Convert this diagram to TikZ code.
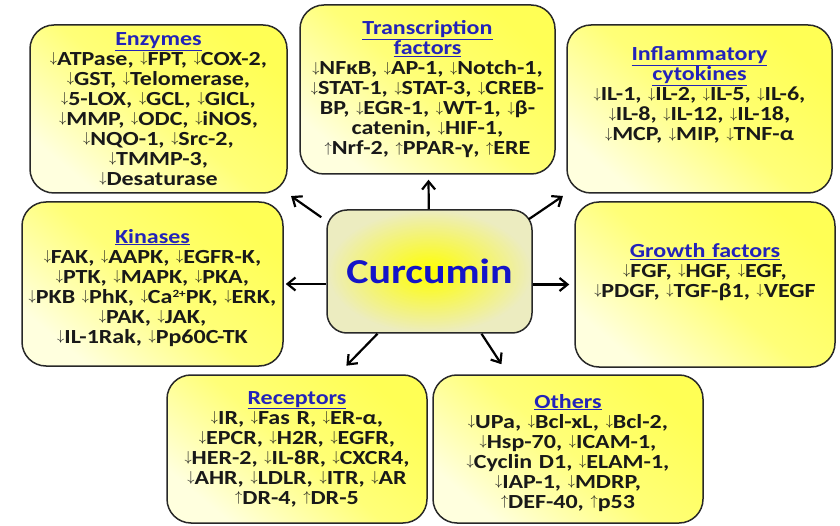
\documentclass[tikz,border=0pt]{standalone}
\usepackage{fontspec}
\setmainfont{Carlito}[FakeStretch=1.2]
\usetikzlibrary{arrows.meta,positioning}

\definecolor{ylw}{RGB}{255,255,85}
\definecolor{ylwmid}{RGB}{255,255,120}
\definecolor{ylwpale}{RGB}{255,255,222}
\definecolor{bord}{RGB}{40,40,40}
\definecolor{ttlblue}{RGB}{35,35,185}
\definecolor{curblue}{RGB}{20,20,200}
\definecolor{curin}{RGB}{255,255,0}
\definecolor{curout}{RGB}{236,236,192}

\newcommand{\boxfont}{\fontsize{20}{20}\selectfont\bfseries\lineskiplimit=-20pt}
\newcommand{\dn}{\raisebox{2.9pt}{\fontsize{15}{15}\selectfont$\downarrow$}}
\newcommand{\up}{\raisebox{2.9pt}{\fontsize{15}{15}\selectfont$\uparrow$}}
\newcommand{\ttl}[1]{\textcolor{ttlblue}{\underline{#1}}}
\newcommand{\sups}[1]{\raisebox{5.5pt}{\fontsize{11}{11}\selectfont #1}}

\begin{document}
\begin{tikzpicture}[x=1pt, y=-1pt,
    shorten >=5pt,
    >={Straight Barb[length=8pt,width=13pt]},
    every text node part/.style={align=center},
    box/.style = {draw=bord, line width=1.5pt, rounded corners=24pt,
                  top color=ylw, bottom color=ylwpale, middle color=ylwmid,
                  shading angle=-40, inner xsep=0pt, inner ysep=2pt,
                  text=black!90, font=\boxfont}
  ]
  \tikzstyle{curbox}=[draw=bord, line width=1.5pt, rounded corners=20pt,
                      inner color=curin, outer color=curout,
                      text=curblue, font=\fontsize{35}{40}\selectfont\bfseries]

  \useasboundingbox (0,0) rectangle (840,526);

  \node[curbox, minimum width=205pt, minimum height=123pt] (b_cur) at (429.5,271.5) {Curcumin};

  \node[box, minimum width=257pt, minimum height=168pt, text width=257pt] (b_enz) at (158.5,109)
    {\ttl{Enzymes}\\
     \dn ATPase, \dn FPT, \dn COX-2,\\
     \dn GST, \dn Telomerase,\\
     \dn 5-LOX, \dn GCL, \dn GICL,\\
     \dn MMP, \dn ODC, \dn iNOS,\\
     \dn NQO-1, \dn Src-2,\\
     \dn TMMP-3,\\
     \dn Desaturase};
  \node[box, minimum width=255pt, minimum height=169pt, text width=255pt] (b_tra) at (427.5,89.5)
    {\ttl{Transcription}\\
     \ttl{factors}\\
     \dn NFκB, \dn AP-1, \dn Notch-1,\\
     \dn STAT-1, \dn STAT-3, \dn CREB-\\
     BP, \dn EGR-1, \dn WT-1, \dn β-\\
     catenin, \dn HIF-1,\\
     \up Nrf-2, \up PPAR-γ, \up ERE};
  \node[box, minimum width=265pt, minimum height=168pt, text width=265pt, text depth=110pt] (b_inf) at (699.5,109)
    {\ttl{Inflammatory}\\
     \ttl{cytokines}\\
     \dn IL-1, \dn IL-2, \dn IL-5, \dn IL-6,\\
     \dn IL-8, \dn IL-12, \dn IL-18,\\
     \dn MCP, \dn MIP, \dn TNF-α};
  \node[box, minimum width=261pt, minimum height=164pt, text width=261pt, text depth=96pt] (b_kin) at (152.5,284)
    {\ttl{Kinases}\\
     \dn FAK, \dn AAPK, \dn EGFR-K,\\
     \dn PTK, \dn MAPK, \dn PKA,\\
     \dn PKB \dn PhK, \dn Ca\sups{2+}PK, \dn ERK,\\
     \dn PAK, \dn JAK,\\
     \dn IL-1Rak, \dn Pp60C-TK};
  \node[box, minimum width=260pt, minimum height=165pt, text width=260pt, text depth=68pt] (b_gro) at (705,284.5)
    {\ttl{Growth factors}\\
     \dn FGF, \dn HGF, \dn EGF,\\
     \dn PDGF, \dn TGF-β1, \dn VEGF};
  \node[box, minimum width=260pt, minimum height=148pt, text width=260pt] (b_rec) at (297,449)
    {\ttl{Receptors}\\
     \dn IR, \dn Fas R, \dn ER-α,\\
     \dn EPCR, \dn H2R, \dn EGFR,\\
     \dn HER-2, \dn IL-8R, \dn CXCR4,\\
     \dn AHR, \dn LDLR, \dn ITR, \dn AR\\
     \up DR-4, \up DR-5};
  \node[box, minimum width=270pt, minimum height=148pt, text width=270pt, text depth=96pt] (b_oth) at (568,449)
    {\ttl{Others}\\
     \dn UPa, \dn Bcl-xL, \dn Bcl-2,\\
     \dn Hsp-70, \dn ICAM-1,\\
     \dn Cyclin D1, \dn ELAM-1,\\
     \dn IAP-1, \dn MDRP,\\
     \up DEF-40, \up p53};

  \path[->, line width=2.2pt, color=black]
  (b_cur) edge (b_tra)
  ([xshift=-5pt,yshift=-8pt]b_cur.north west)  edge [shorten >=4pt]  (b_enz.south east)
  ([xshift=-4pt,yshift=-10pt]b_cur.north east) edge [shorten >=4pt]  (b_inf.south west)
  (b_kin.east -| b_cur.west)                   edge [shorten >=2pt]  (b_kin.east)
  (b_gro.west -| b_cur.east)                   edge                  (b_gro.west)
  ([xshift=-52pt]b_cur.south)                  edge [shorten >=12pt] ([xshift=41pt]b_rec.north)
  ([xshift=52pt]b_cur.south)                   edge [shorten >=12pt] ([xshift=-60pt]b_oth.north)
  ;
\end{tikzpicture}
\end{document}
